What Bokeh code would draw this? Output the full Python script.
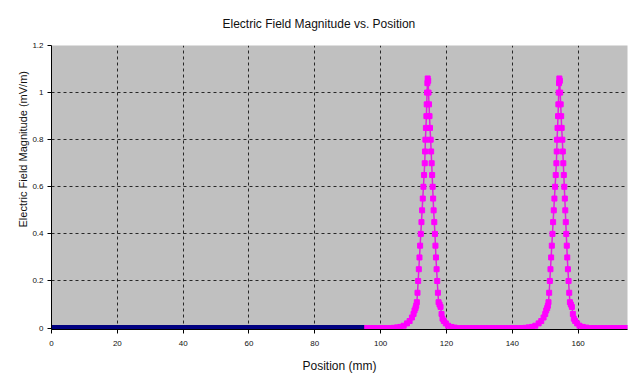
from bokeh.plotting import figure
from bokeh.models import Range1d, FixedTicker, Title
from bokeh.embed import file_html
from bokeh.resources import INLINE

title_text = "Electric Field Magnitude vs. Position"
x_label = "Position (mm)"
y_label = "Electric Field Magnitude (mV/m)"
x_ticks = [0, 20, 40, 60, 80, 100, 120, 140, 160]
y_ticks = [0, 0.2, 0.4, 0.6, 0.8, 1.0, 1.2]

# Region before the structure (navy series)
blue_x = [0, 10, 20, 30, 40, 50, 60, 70, 80, 90, 95]
blue_y = [0, 0, 0, 0, 0, 0, 0, 0, 0, 0, 0]

# Region with the two peaks (magenta series)
mag_x = [95, 96, 97, 98, 99, 100, 101, 102, 103, 104, 105, 106, 107, 108, 108.8,
         109.5, 110, 110.3, 110.6, 110.8, 111, 111.2, 111.4, 111.6, 111.8, 112,
         112.2, 112.4, 112.6, 112.8, 113, 113.2, 113.4, 113.5, 113.6, 113.75,
         113.9, 114, 114.1, 114.2, 114.3, 114.45, 114.55, 114.7, 114.85, 115,
         115.2, 115.35, 115.5, 115.65, 115.8, 115.95, 116.1, 116.3, 116.5, 116.65,
         116.8, 117, 117.2, 117.4, 117.6, 117.9, 118.2, 118.5, 118.8, 119.2, 119.8,
         120.5, 121.5, 122.5, 124, 125, 126, 127, 128, 129, 130, 131, 132, 133,
         134, 135, 136, 137, 138, 139, 140, 141, 142, 143, 144, 145, 146, 147,
         148, 148.8, 149.5, 150, 150.3, 150.6, 150.8, 151, 151.2, 151.4, 151.6,
         151.8, 152, 152.2, 152.4, 152.6, 152.8, 153, 153.2, 153.4, 153.5, 153.6,
         153.75, 153.9, 154, 154.1, 154.2, 154.3, 154.45, 154.55, 154.7, 154.85,
         155, 155.2, 155.35, 155.5, 155.65, 155.8, 155.95, 156.1, 156.25, 156.4,
         156.55, 156.7, 156.9, 157.1, 157.3, 157.5, 157.8, 158.1, 158.4, 158.7,
         159.1, 159.7, 160.4, 161.4, 162.5, 164, 165, 166, 167, 168, 169, 170,
         171, 172, 173, 174, 175]
mag_y = [0, 0, 0, 0, 0, 0, 0, 0, 0, 0.001, 0.003, 0.005, 0.01, 0.02, 0.03,
         0.045, 0.06, 0.075, 0.085, 0.095, 0.11, 0.15, 0.2, 0.25, 0.3, 0.35,
         0.4, 0.45, 0.5, 0.55, 0.6, 0.65, 0.7, 0.75, 0.8, 0.85,
         0.9, 0.95, 1.0, 1.04, 1.06, 1.05, 1.0, 0.95, 0.9, 0.85,
         0.8, 0.75, 0.7, 0.65, 0.6, 0.55, 0.5, 0.45, 0.4, 0.35,
         0.3, 0.25, 0.2, 0.15, 0.11, 0.1, 0.09, 0.06, 0.04, 0.03, 0.02,
         0.01, 0.005, 0.002, 0, 0, 0, 0, 0, 0, 0, 0, 0, 0,
         0, 0, 0, 0, 0, 0, 0, 0, 0, 0, 0.001, 0.003, 0.005, 0.01,
         0.02, 0.03, 0.045, 0.06, 0.075, 0.085, 0.095, 0.11, 0.15, 0.2, 0.25,
         0.3, 0.35, 0.4, 0.45, 0.5, 0.55, 0.6, 0.65, 0.7, 0.75, 0.8,
         0.85, 0.9, 0.95, 1.0, 1.04, 1.06, 1.05, 1.0, 0.95, 0.9,
         0.85, 0.8, 0.75, 0.7, 0.65, 0.6, 0.55, 0.5, 0.45, 0.4,
         0.35, 0.3, 0.25, 0.2, 0.15, 0.11, 0.1, 0.09, 0.06, 0.04,
         0.03, 0.02, 0.01, 0.005, 0.002, 0, 0, 0, 0, 0, 0, 0,
         0, 0, 0, 0, 0]

FONT = "Liberation Sans"

p = figure(width=629, height=381, output_backend="svg", toolbar_location=None,
           x_range=Range1d(0, 175), y_range=Range1d(-0.006, 1.2),
           min_border_left=51, min_border_right=2, min_border_top=0,
           min_border_bottom=52)

xax = p.below[0]
yax = p.left[0]

p.title.text = title_text
p.title.align = "left"
p.title.offset = 171
p.title.standoff = 29
p.title.text_font = FONT
p.title.text_font_size = "12px"
p.title.text_font_style = "normal"
p.title.text_color = "#111111"

p.background_fill_color = "#c0c0c0"
p.border_fill_color = "white"
p.outline_line_color = None

for ax in (xax, yax):
    ax.major_label_text_font = FONT
    ax.major_label_text_font_size = "8px"
    ax.major_label_text_color = "#111111"
    ax.axis_label_text_font = FONT
    ax.axis_label_text_font_size = "12px"
    ax.axis_label_text_font_style = "normal"
    ax.axis_label_text_color = "#111111"
    ax.axis_line_color = "black"
    ax.major_tick_line_color = "black"
    ax.major_tick_out = 4
    ax.major_tick_in = 0
    ax.minor_tick_line_color = None

xax.axis_label = x_label
xax.ticker = FixedTicker(ticks=x_ticks)
yax.ticker = FixedTicker(ticks=y_ticks)
yax.major_label_overrides = {0: "0", 1.0: "1", 1.2: "1.2"}
xax.major_label_standoff = 7
yax.major_label_standoff = 4
xax.axis_label_standoff = 10

p.xgrid.ticker = FixedTicker(ticks=x_ticks[1:])
p.ygrid.ticker = FixedTicker(ticks=y_ticks[1:])
p.grid.grid_line_color = "black"
p.grid.grid_line_dash = "3 3"
p.grid.grid_line_width = 1
p.grid.grid_line_alpha = 0.8

p.line(mag_x, mag_y, line_color="#e020e0", line_width=1.5)
p.scatter(mag_x, mag_y, marker="square", size=5, fill_color="#ff00ff",
          line_color="#ff00ff")
p.line(blue_x, blue_y, line_color="#000080", line_width=6)

ylab = Title(text=y_label, align="left", offset=102, text_font=FONT,
             text_font_size="11px", text_font_style="normal",
             text_color="#111111", standoff=2)
p.add_layout(ylab, "left")

open("out.html", "w").write(file_html(p, INLINE))
